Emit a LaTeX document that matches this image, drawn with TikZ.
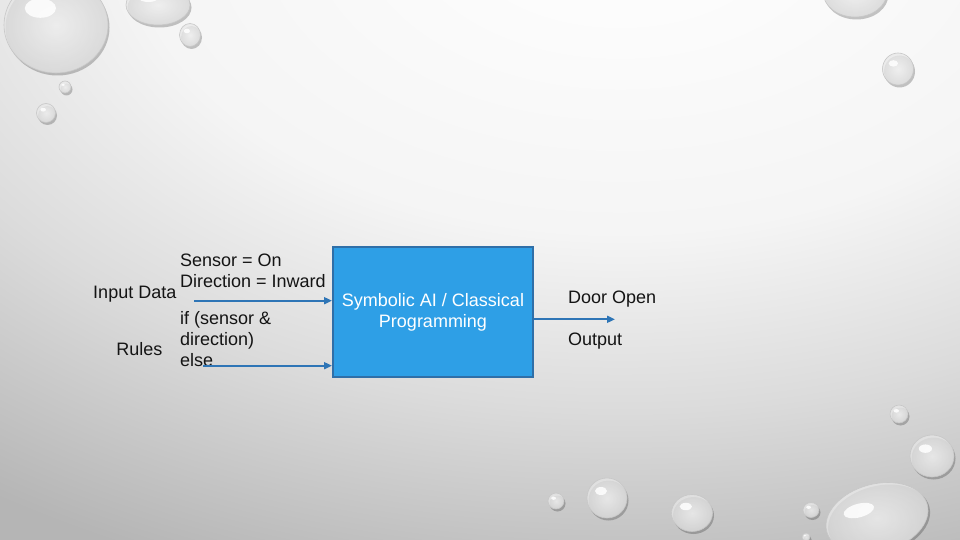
\documentclass[tikz,border=0pt]{standalone}
\usepackage{fontspec}
\setmainfont{Liberation Sans}
\usetikzlibrary{arrows.meta}
\definecolor{boxfill}{HTML}{2E9FE6}
\definecolor{boxline}{HTML}{2F6FA8}
\definecolor{arrowc}{HTML}{2E75B6}
\pgfdeclareradialshading{bgshade}{\pgfpoint{0bp}{0bp}}{color(0bp)=(white); color(5.6bp)=(black!4); color(8.75bp)=(black!14); color(12.5bp)=(black!29); color(25bp)=(black!32)}
\tikzset{
  lbl/.style={font=\fontsize{18}{21}\selectfont, text=black!92, inner sep=0pt, align=left},
  conn/.style={draw=arrowc, line width=1.8pt, -{Triangle[length=8pt,width=7pt]}},
  procbox/.style={draw=boxline, line width=2pt, fill=boxfill, minimum width=200pt, minimum height=130pt, inner sep=0pt, align=center, text=white, font=\fontsize{18}{21}\selectfont},
}
\newcommand\droplet[4]{%
  \fill[black, opacity=0.22] ({#1+1.5},{#2+2.5}) ellipse [x radius=#3pt, y radius=#4pt];
  \shade[inner color=white, outer color=black!10, fill opacity=0.75, draw=black!22, line width=0.6pt] (#1,#2) ellipse [x radius=#3pt, y radius=#4pt];
  \fill[white, opacity=0.85] ({#1-0.3*#3},{#2-0.35*#4}) ellipse [x radius={0.3*#3pt}, y radius={0.2*#4pt}];
}
\begin{document}
\begin{tikzpicture}[x=1pt,y=-1pt]
\useasboundingbox (0,0) rectangle (960,540);
\begin{scope}
  \clip (0,0) rectangle (960,540);
  \shade[shading=bgshade] (620,-80) ellipse [x radius=2200pt, y radius=1400pt];
  % water droplets
  \droplet{56}{25}{52}{48}
  \droplet{158}{5}{32}{20}
  \droplet{190}{35}{10.5}{11.5}
  \droplet{65}{87}{6}{6}
  \droplet{46}{113}{9.5}{9.5}
  \droplet{855}{-8}{32}{25}
  \droplet{898}{69}{15.5}{16}
  \droplet{899}{414}{9}{9}
  \droplet{932}{456}{22}{21}
  \droplet{556}{501}{8}{8}
  \droplet{607}{498}{20}{20}
  \droplet{692}{513}{20.5}{18.5}
  \droplet{811}{510}{8}{7.5}
  \droplet{806}{537}{4}{4}
  \begin{scope}[rotate around={15:(877,518)}]
    \droplet{877}{518}{52}{34}
  \end{scope}
\end{scope}

% process box
\node[procbox] (proc) at (433,312) {Symbolic AI / Classical\\Programming};

% labels
\node[lbl, anchor=base east] (inputlbl) at (176.5,298.3) {Input Data};
\node[lbl, anchor=base west] (datatxt) at (180,287.7) {Sensor = On\\Direction = Inward};
\node[lbl, anchor=base east] (ruleslbl) at (162.5,355) {Rules};
\node[lbl, anchor=base west] (rulestxt) at (180,366) {if (sensor \&\\direction)\\else};
\node[lbl, anchor=base west] (outtxt) at (568,303) {Door Open};
\node[lbl, anchor=base west] (outlbl) at (568,345) {Output};

% connectors
\coordinate (inStart) at (194,300.7);
\coordinate (rulesStart) at (203,365.7);
\coordinate (outEnd) at (615,319.3);
\draw[conn] (inStart) -- (inStart -| proc.west);
\draw[conn] (rulesStart) -- (rulesStart -| proc.west);
\draw[conn] (proc.east |- outEnd) -- (outEnd);
\end{tikzpicture}
\end{document}
